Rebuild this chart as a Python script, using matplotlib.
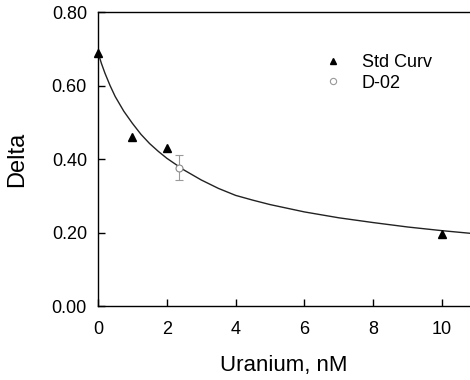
import matplotlib
matplotlib.use("Agg")
import matplotlib.pyplot as plt
from matplotlib.lines import Line2D

plt.rcParams['font.family'] = ['Liberation Sans', 'DejaVu Sans']

# standard curve points (uranium nM, delta)
std_x = [0, 1, 2, 10]
std_y = [0.688, 0.460, 0.431, 0.196]

# sample D-02 with its error
d02_x = [2.34]
d02_y = [0.376]
d02_err = [0.034]

# fitted calibration curve
fit_x = [0.0, 0.1, 0.2, 0.35, 0.5, 0.75, 1.0, 1.25, 1.5, 1.75, 2.0, 2.5,
         3.0, 3.5, 4.0, 4.5, 5.0, 6.0, 7.0, 8.0, 9.0, 10.0, 10.8]
fit_y = [0.690, 0.660, 0.634, 0.600, 0.570, 0.530, 0.497, 0.467, 0.442,
         0.421, 0.402, 0.370, 0.343, 0.320, 0.301, 0.288, 0.276, 0.256,
         0.240, 0.227, 0.215, 0.205, 0.198]

fig = plt.figure(figsize=(4.7, 3.8), dpi=100)
ax = fig.add_axes([0.2085, 0.1947, 0.7915, 0.7737])

ax.plot(fit_x, fit_y, color='#222222', lw=1.0, zorder=2)
ax.plot(std_x, std_y, '^', color='black', ms=5.5, ls='none',
        zorder=3, clip_on=False)
ax.errorbar(d02_x, d02_y, yerr=d02_err, fmt='o', mfc='white', mec='#888888',
            ecolor='#999999', ms=5, mew=0.8, elinewidth=0.8, capsize=3,
            zorder=3)

ax.set_xlim(0, 10.81)
ax.set_ylim(0, 0.8)
ax.set_xticks([0, 2, 4, 6, 8, 10])
ax.set_yticks([0, 0.2, 0.4, 0.6, 0.8])
ax.set_yticklabels(['0.00', '0.20', '0.40', '0.60', '0.80'])
ax.tick_params(direction='in', length=5, width=1, labelsize=13)
ax.tick_params(axis='y', pad=8)
ax.tick_params(axis='x', pad=11)
ax.spines['right'].set_visible(False)
for s in ('left', 'bottom', 'top'):
    ax.spines[s].set_linewidth(1.0)

ax.set_xlabel('Uranium, nM', fontsize=16, labelpad=12)
ax.set_ylabel('Delta', fontsize=17, labelpad=17)

handles = [
    Line2D([], [], marker='^', color='black', ls='none', ms=4.5),
    Line2D([], [], marker='o', mfc='white', mec='#999999', ls='none',
           ms=4.5, mew=0.8),
]
fig.legend(handles, ['Std Curv', 'D-02'], loc='upper left',
           bbox_to_anchor=(0.689, 0.858), bbox_transform=fig.transFigure,
           frameon=False, fontsize=13, handlelength=1.0, handletextpad=1.1,
           labelspacing=0.2, borderpad=0, borderaxespad=0)

fig.savefig('out.png', dpi=100)
